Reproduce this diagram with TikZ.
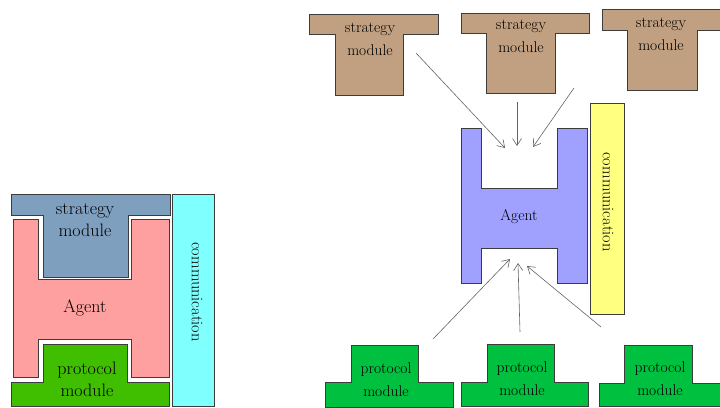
\documentclass[tikz,border=0pt]{standalone}
\usetikzlibrary{arrows.meta}
\definecolor{stratblue}{RGB}{127,159,191}
\definecolor{agentpink}{RGB}{255,160,160}
\definecolor{protgreen}{RGB}{64,190,0}
\definecolor{commcyan}{RGB}{128,255,255}
\definecolor{stratbrown}{RGB}{192,160,128}
\definecolor{agentblue}{RGB}{160,160,255}
\definecolor{commyellow}{RGB}{255,255,128}
\definecolor{protgreenB}{RGB}{0,192,64}
\definecolor{edgegrey}{RGB}{60,60,60}
\definecolor{linkgrey}{RGB}{100,100,100}
\newcommand{\teeShape}[8]{\draw[part,fill=#1] (#2,#4) -- (#3,#4) -- (#3,#5) -- (#7,#5) -- (#7,#8) -- (#6,#8) -- (#6,#5) -- (#2,#5) -- cycle;}
\newcommand{\bigText}{\fontsize{18}{22}\selectfont}
\newcommand{\smallText}{\fontsize{15.5}{23}\selectfont}
\newcommand{\commText}{\fontsize{16.3}{20}\selectfont}

\begin{document}
\begin{tikzpicture}[x=1pt,y=-1pt]
  \tikzset{part/.style={draw=edgegrey,line width=0.8pt},
           link/.style={draw=linkgrey,line width=0.6pt,-{Straight Barb[length=7pt,width=9pt]}},
           every node/.style={inner sep=0pt,align=center}}
  \useasboundingbox (0,0) rectangle (720,407);
  \teeShape{stratblue}{11}{170}{194}{215}{43}{128}{277}
  \draw[part,fill=agentpink] (13,219) -- (38,219) -- (38,279) -- (131,279) -- (131,219) -- (169,219)
        -- (169,377) -- (131,377) -- (131,339) -- (38,339) -- (38,377) -- (13,377) -- cycle;
  \teeShape{protgreen}{11}{169}{406}{382}{43}{127}{344}
  \draw[part,fill=commcyan] (172,194) rectangle (214,406);
  \node[font=\bigText] (sL) at (85,220) {strategy\\module};
  \node[font=\bigText] (aL) at (85,308) {Agent};
  \node[font=\bigText] (pL) at (87,379) {protocol\\module};
  \node[font=\commText,rotate=-90] (cL) at (197,292) {communication};
  \teeShape{stratbrown}{309}{438}{14}{34}{335}{403}{95}
  \teeShape{stratbrown}{461}{589}{13}{33}{486}{555}{93}
  \teeShape{stratbrown}{602}{722}{9}{30}{627}{697}{90}
  \draw[part,fill=agentblue] (461,128) -- (481,128) -- (481,188) -- (557,188) -- (557,128) -- (587,128)
        -- (587,283) -- (557,283) -- (557,248) -- (481,248) -- (481,283) -- (461,283) -- cycle;
  \draw[part,fill=commyellow] (590,103) rectangle (624,314);
  \teeShape{protgreenB}{325}{453}{407}{382}{351}{418}{345}
  \teeShape{protgreenB}{461}{588}{406}{382}{487}{554}{344}
  \teeShape{protgreenB}{599}{722}{406}{383}{624}{692}{345}
  \node[font=\smallText] (s1) at (370,39.5) {strategy\\module};
  \node[font=\smallText] (s2) at (521,36.5) {strategy\\module};
  \node[font=\smallText] (s3) at (661,34) {strategy\\module};
  \node[font=\smallText] (aR) at (519,217) {Agent};
  \node[font=\commText,rotate=-90] (cR) at (608,202) {communication};
  \node[font=\smallText] (p1) at (386,380) {protocol\\module};
  \node[font=\smallText] (p2) at (522,379) {protocol\\module};
  \node[font=\smallText] (p3) at (660,379) {protocol\\module};
  \coordinate (s1e) at (416,53);
  \coordinate (s2e) at (517,102);
  \coordinate (s3e) at (574,88);
  \coordinate (t1) at (505,148);
  \coordinate (t2) at (517,146);
  \coordinate (t3) at (533,147);
  \coordinate (p1e) at (433,339);
  \coordinate (p2e) at (520,332);
  \coordinate (p3e) at (601,327);
  \coordinate (b1) at (510,259);
  \coordinate (b2) at (518,263);
  \coordinate (b3) at (527,266);
  \draw[link] (s1e) -- (t1);
  \draw[link] (s2e) -- (t2);
  \draw[link] (s3e) -- (t3);
  \draw[link] (p1e) -- (b1);
  \draw[link] (p2e) -- (b2);
  \draw[link] (p3e) -- (b3);
\end{tikzpicture}
\end{document}
